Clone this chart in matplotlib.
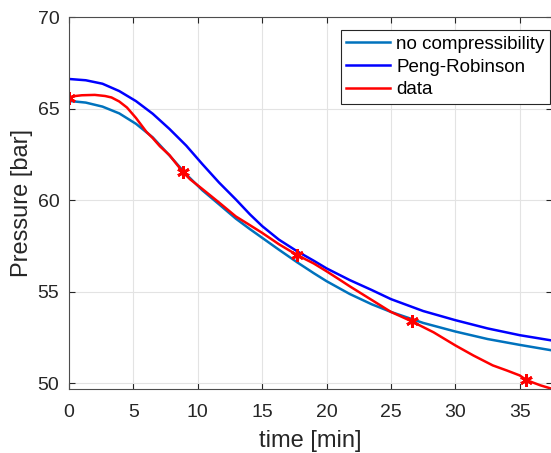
import matplotlib.pyplot as plt

plt.rcParams['font.family'] = ['Liberation Sans', 'DejaVu Sans']

# Peng-Robinson model
t_pr = [0, 1.3, 2.6, 3.9, 5.2, 6.5, 7.8, 9.1, 10.35, 11.65, 12.95, 14.05, 15, 16.3, 17.7, 19, 20,
        21.8, 23.5, 25, 27.5, 30, 32.5, 35, 37.5]
p_pr = [66.63, 66.56, 66.37, 65.97, 65.42, 64.73, 63.9, 62.99, 61.98, 60.97, 60.05, 59.23, 58.59,
        57.85, 57.22, 56.7, 56.28, 55.64, 55.1, 54.6, 53.95, 53.45, 53.0, 52.63, 52.34]

# no compressibility model
t_nc = [0, 1.3, 2.6, 3.9, 5.2, 6.5, 7.8, 9.1, 10.35, 11.65, 12.95, 14, 15, 16.3, 17.7, 19, 20,
        21.8, 23.5, 25, 27.5, 30, 32.5, 35, 37.5]
p_nc = [65.43, 65.34, 65.12, 64.75, 64.18, 63.44, 62.45, 61.42, 60.55, 59.78, 59.0, 58.45, 57.95,
        57.3, 56.62, 56.02, 55.58, 54.88, 54.32, 53.9, 53.3, 52.83, 52.42, 52.1, 51.8]

# measured data
t_data = [0, 0.5, 1, 2, 2.8, 3.3, 3.9, 4.5, 5.2, 6, 6.5, 7.06, 7.8, 8.87, 9.4, 10.35, 11.65,
          12.95, 14.05, 15, 16.3, 17.68, 19, 20, 21.04, 21.8, 23.63, 25, 26.6, 28.3, 30, 31.4,
          32.9, 34, 35, 35.5, 36.6, 37.5]
p_data = [65.6, 65.7, 65.74, 65.76, 65.7, 65.62, 65.4, 65.07, 64.5, 63.75, 63.4, 62.95, 62.47,
          61.52, 61.15, 60.62, 59.88, 59.12, 58.64, 58.22, 57.6, 57.02, 56.55, 56.12, 55.65, 55.3,
          54.5, 53.9, 53.39, 52.79, 52.07, 51.52, 50.98, 50.7, 50.43, 50.18, 49.89, 49.7]
mark_idx = [0, 13, 21, 28, 35]

fig = plt.figure(figsize=(5.51, 4.53), dpi=100)
ax = fig.add_axes([69 / 551, 64 / 453, 483 / 551, 371.7 / 453])

ax.plot(t_nc, p_nc, color='#0072BD', lw=1.8, label='no compressibility')
ax.plot(t_pr, p_pr, color='#0000FF', lw=1.8, label='Peng-Robinson')
ax.plot(t_data, p_data, color='#FF0000', lw=1.8, label='data')
ax.plot([t_data[i] for i in mark_idx], [p_data[i] for i in mark_idx], ls='none',
        marker=(6, 2, 0), ms=9, mew=2, color='#FF0000')

ax.set_xlim(0, 37.5)
ax.set_ylim(49.69, 70)
ax.set_xticks(range(0, 36, 5))
ax.set_yticks(range(50, 71, 5))
ax.grid(True, color='#e3e3e3', lw=0.8)
ax.set_axisbelow(True)
ax.tick_params(direction='in', length=4, width=0.8, colors='#262626', labelsize=14,
               top=True, right=True)
ax.tick_params(axis='x', pad=11)
ax.tick_params(axis='y', pad=7)
for s in ax.spines.values():
    s.set_color('#4d4d4d')
    s.set_linewidth(0.8)

ax.set_xlabel('time [min]', fontsize=17, color='#262626', labelpad=6)
ax.set_ylabel('Pressure [bar]', fontsize=17, color='#262626', labelpad=3)

leg = ax.legend(loc='upper right', bbox_to_anchor=(550 / 551, 1 - 30 / 453),
                bbox_transform=fig.transFigure, borderaxespad=0, fontsize=13.5,
                fancybox=False, framealpha=1, edgecolor='#262626', handlelength=2.35,
                borderpad=0.3, labelspacing=0.3, handletextpad=0.3)
leg.get_frame().set_linewidth(0.8)

fig.savefig('out.png', dpi=100)
